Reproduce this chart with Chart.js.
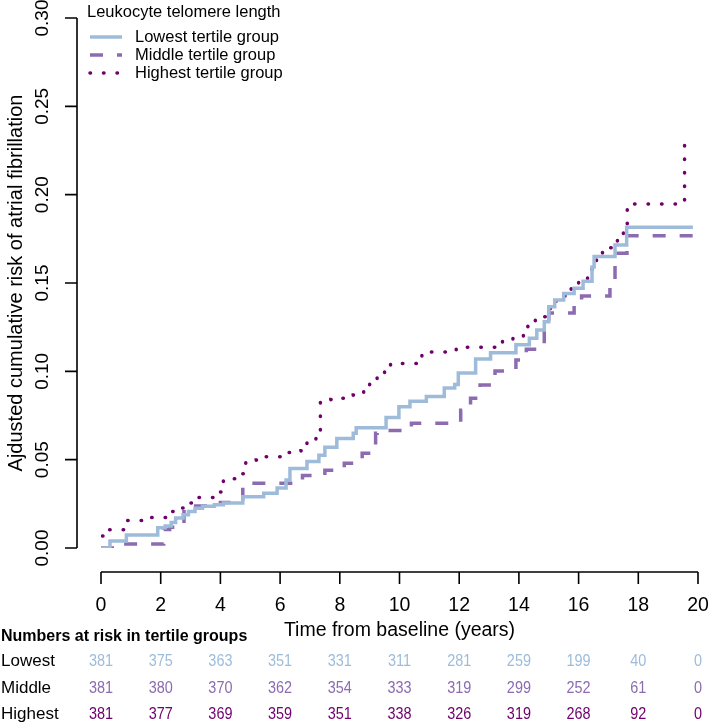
<!DOCTYPE html>
<html>
<head>
<meta charset="utf-8">
<script src="https://cdn.jsdelivr.net/npm/chart.js@4/dist/chart.umd.min.js"></script>
<style>
html,body{margin:0;padding:0;background:#fff;}
canvas{display:block;}
</style>
</head>
<body>
<canvas id="c" width="709" height="726"></canvas>
<script>
// ---- data (step functions: jump time, new cumulative risk) ----
const lowestTimes  = [0, 0.3, 0.85, 1.9, 2.15, 2.35, 2.5, 2.75, 2.93, 3.15, 3.4, 3.8, 4.1, 4.75, 5.45, 5.9, 6.2, 6.33, 6.9, 7.3, 7.5, 7.9, 8.45, 8.55, 9.55, 9.98, 10.35, 10.9, 11.5, 11.85, 11.97, 12.55, 13.05, 13.9, 14.35, 14.6, 14.85, 15.0, 15.2, 15.5, 15.85, 16.15, 16.45, 16.52, 17.22, 17.61, 19.83];
const lowestRisk   = [0, 0.004, 0.0074, 0.0115, 0.0125, 0.0145, 0.017, 0.0188, 0.0206, 0.0225, 0.0236, 0.0245, 0.0255, 0.029, 0.031, 0.034, 0.0385, 0.045, 0.049, 0.0525, 0.057, 0.062, 0.065, 0.068, 0.0738, 0.08, 0.083, 0.0857, 0.0905, 0.0925, 0.099, 0.107, 0.1105, 0.115, 0.1187, 0.1234, 0.128, 0.1366, 0.1404, 0.144, 0.147, 0.151, 0.159, 0.165, 0.1715, 0.1815, 0.1815];

const middleTimes  = [0, 0.55, 2.1, 2.3, 2.78, 3.05, 4.0, 4.75, 6.75, 7.5, 8.15, 8.75, 9.2, 9.25, 10.4, 12.05, 12.38, 12.7, 13.2, 13.9, 14.25, 14.85, 15.0, 15.85, 16.1, 17.05, 17.22, 17.25, 17.62, 19.83];
const middleRisk   = [0, 0.0022, 0.0105, 0.0117, 0.0205, 0.0238, 0.0257, 0.0366, 0.041, 0.044, 0.048, 0.0536, 0.065, 0.0665, 0.0706, 0.078, 0.0847, 0.0923, 0.1002, 0.1064, 0.1125, 0.1234, 0.133, 0.1375, 0.1426, 0.148, 0.161, 0.1668, 0.1768, 0.1768];

const highestTimes = [0, 0.02, 0.25, 0.85, 1.6, 2.3, 2.65, 2.95, 3.2, 4.0, 4.1, 4.45, 4.7, 4.85, 5.2, 5.5, 6.3, 6.7, 6.9, 7.2, 7.35, 7.7, 8.1, 8.45, 8.8, 9.0, 9.25, 9.5, 9.7, 10.75, 11.9, 13.45, 13.8, 14.15, 14.3, 14.55, 14.95, 15.05, 15.25, 15.55, 15.75, 16.0, 16.3, 16.45, 16.6, 16.8, 17.15, 17.3, 17.5, 17.63, 19.55];
const highestRisk  = [0, 0.0068, 0.0104, 0.0155, 0.0172, 0.0206, 0.0226, 0.0255, 0.0286, 0.0317, 0.038, 0.0392, 0.042, 0.0485, 0.0498, 0.0517, 0.054, 0.0551, 0.0596, 0.0624, 0.0828, 0.084, 0.0847, 0.0866, 0.0889, 0.0941, 0.0974, 0.1007, 0.1045, 0.111, 0.1136, 0.118, 0.12, 0.1224, 0.1277, 0.1309, 0.1319, 0.138, 0.1426, 0.1445, 0.1498, 0.1523, 0.155, 0.1607, 0.1653, 0.17, 0.1719, 0.1766, 0.181, 0.1947, 0.2313];

const seriesNames = ["Lowest tertile group", "Middle tertile group", "Highest tertile group"];
const riskRowLabels = ["Lowest", "Middle", "Highest"];
const riskTimes = [0, 2, 4, 6, 8, 10, 12, 14, 16, 18, 20];
const riskLowest  = [381, 375, 363, 351, 331, 311, 281, 259, 199, 40, 0];
const riskMiddle  = [381, 380, 370, 362, 354, 333, 319, 299, 252, 61, 0];
const riskHighest = [381, 377, 369, 359, 351, 338, 326, 319, 268, 92, 0];
const xTicks = [0, 2, 4, 6, 8, 10, 12, 14, 16, 18, 20];
const yTicks = [0.00, 0.05, 0.10, 0.15, 0.20, 0.25, 0.30];

// ---- styles ----
const COLORS = ["#9ebcda", "#8c6bb1", "#6e016b"];
const FONT = '"Liberation Sans", Arial, Helvetica, sans-serif';

function pts(t, v) { return t.map((x, i) => ({x: x, y: v[i]})); }

function txt(ctx, s, x, y, o) {
  o = o || {};
  ctx.save();
  ctx.translate(x, y);
  if (o.rot) ctx.rotate(o.rot);
  ctx.font = (o.bold ? "bold " : "") + (o.size || 16) + "px " + FONT;
  ctx.scale(o.sx || 1, o.sy || 1);
  ctx.fillStyle = o.color || "#000";
  ctx.textAlign = o.align || "center";
  ctx.textBaseline = "middle";
  ctx.fillText(s, 0, 0);
  ctx.restore();
}

const decor = {
  id: "decor",
  afterDraw(chart) {
    const ctx = chart.ctx;
    const xs = chart.scales.x, ys = chart.scales.y;
    ctx.save();
    ctx.strokeStyle = "#000";
    ctx.lineWidth = 1.6;
    ctx.lineCap = "butt";
    // y axis (R style, offset)
    const yAxX = 77;
    ctx.beginPath();
    ctx.moveTo(yAxX, ys.getPixelForValue(0));
    ctx.lineTo(yAxX, ys.getPixelForValue(0.30));
    yTicks.forEach(v => {
      const p = ys.getPixelForValue(v);
      ctx.moveTo(yAxX, p); ctx.lineTo(yAxX - 12, p);
    });
    // x axis
    const xAxY = 572;
    ctx.moveTo(xs.getPixelForValue(0), xAxY);
    ctx.lineTo(xs.getPixelForValue(20), xAxY);
    xTicks.forEach(v => {
      const p = xs.getPixelForValue(v);
      ctx.moveTo(p, xAxY); ctx.lineTo(p, xAxY + 12);
    });
    ctx.stroke();
    ctx.restore();

    // tick labels
    yTicks.forEach(v => {
      txt(ctx, v.toFixed(2), 43, ys.getPixelForValue(v), {size: 19, rot: -Math.PI / 2});
    });
    xTicks.forEach(v => {
      txt(ctx, String(v), xs.getPixelForValue(v), 606, {size: 19.5});
    });
    // axis titles
    txt(ctx, "Time from baseline (years)", (xs.left + xs.right) / 2, 631, {size: 19.5});
    txt(ctx, "Ajdusted cumulative risk of atrial fibrillation", 16.5, (ys.top + ys.bottom) / 2,
        {size: 20, rot: -Math.PI / 2});

    // legend
    txt(ctx, "Leukocyte telomere length", 87, 12, {size: 16.5, align: "left"});
    const ly = [37, 55, 73];
    chart.data.datasets.forEach((ds, i) => {
      ctx.save();
      ctx.strokeStyle = ds.borderColor;
      ctx.lineWidth = ds.borderWidth;
      ctx.lineCap = ds.borderCapStyle || "butt";
      ctx.setLineDash(ds.borderDash || []);
      ctx.beginPath();
      ctx.moveTo(90, ly[i]);
      ctx.lineTo(122, ly[i]);
      ctx.stroke();
      ctx.restore();
      txt(ctx, ds.label, 135, ly[i], {size: 16.5, align: "left"});
    });

    // numbers at risk
    txt(ctx, "Numbers at risk in tertile groups", 1, 637, {size: 16, bold: true, align: "left"});
    const rows = [riskLowest, riskMiddle, riskHighest];
    const ry = [661, 688, 714];
    rows.forEach((r, i) => {
      txt(ctx, riskRowLabels[i], 1, ry[i], {size: 17, align: "left"});
      r.forEach((n, j) => {
        txt(ctx, String(n), xs.getPixelForValue(riskTimes[j]), ry[i], {size: 17, sx: 0.85, color: COLORS[i]});
      });
    });
  }
};

new Chart(document.getElementById("c"), {
  type: "line",
  data: {
    datasets: [
      {label: seriesNames[0], data: pts(lowestTimes, lowestRisk), borderColor: COLORS[0], borderWidth: 3.5, stepped: true, pointRadius: 0, fill: false},
      {label: seriesNames[1], data: pts(middleTimes, middleRisk), borderColor: COLORS[1], borderWidth: 3.5, borderDash: [13, 14], stepped: true, pointRadius: 0, fill: false},
      {label: seriesNames[2], data: pts(highestTimes, highestRisk), borderColor: COLORS[2], borderWidth: 3.5, borderDash: [0.5, 13], borderCapStyle: "round", stepped: true, pointRadius: 0, fill: false}
    ]
  },
  options: {
    responsive: false,
    animation: false,
    layout: {padding: {left: 101, right: 11, top: 18, bottom: 178}},
    scales: {
      x: {type: "linear", min: 0, max: 20, display: false},
      y: {type: "linear", min: 0, max: 0.30, display: false}
    },
    plugins: {legend: {display: false}, tooltip: {enabled: false}}
  },
  plugins: [decor]
});
</script>
</body>
</html>
